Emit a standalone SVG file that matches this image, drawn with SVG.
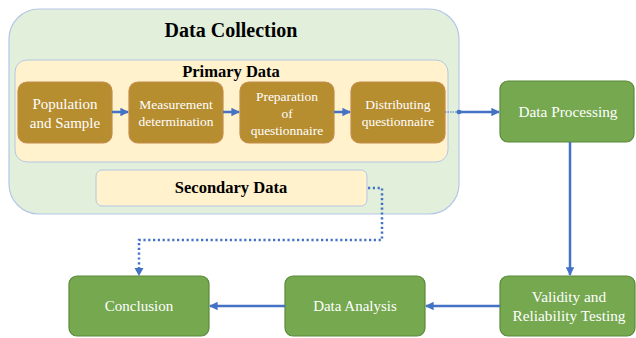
<svg xmlns="http://www.w3.org/2000/svg" width="636" height="338" viewBox="0 0 636 338">
  <defs>
    <marker id="arrowSmall" viewBox="0 0 10 10" refX="9" refY="5" markerWidth="3.4" markerHeight="3.4" orient="auto" markerUnits="strokeWidth">
      <path d="M0,0 L10,5 L0,10 Z" fill="#4472c4"/>
    </marker>
  </defs>
  <style>
    .group-box { fill: #e2efda; stroke: #b4c7e7; stroke-width: 1.2; }
    .data-box { fill: #fff2cc; stroke: #b4c7e7; stroke-width: 1; }
    .step { fill: #b68d2f; stroke: #c48b4c; stroke-width: 1.2; }
    .stage { fill: #75a84f; stroke: #5b8a3a; stroke-width: 1.2; }
    text { font-family: "Liberation Serif", "Times New Roman", serif; }
    .title { font-weight: bold; fill: #000; text-anchor: middle; }
    .label { fill: #fff; text-anchor: middle; }
    .flow { stroke: #4472c4; stroke-width: 2.5; fill: none; }
    .dotted { stroke: #4472c4; stroke-width: 2.5; fill: none; stroke-dasharray: 2.2 2.6; }
  </style>

  <!-- Data collection container -->
  <g id="data-collection">
    <rect class="group-box" x="9" y="9" width="450" height="205" rx="30" ry="30"/>
    <text class="title" x="231" y="37" font-size="20">Data Collection</text>
  </g>

  <g id="primary-data">
    <rect class="data-box" x="15" y="60" width="433" height="102" rx="12" ry="12"/>
    <text class="title" x="231" y="77" font-size="16.5">Primary Data</text>
  </g>

  <g id="secondary-data">
    <rect class="data-box" x="96" y="170" width="271" height="36" rx="6" ry="6"/>
    <text class="title" x="231" y="193" font-size="16.5">Secondary Data</text>
  </g>

  <!-- Primary data steps -->
  <g id="population-sample">
    <rect class="step" x="18" y="82" width="94" height="61" rx="9" ry="9"/>
    <text class="label" font-size="15"><tspan x="65" y="109">Population</tspan><tspan x="65" y="128">and Sample</tspan></text>
  </g>
  <g id="measurement">
    <rect class="step" x="129" y="82" width="94" height="61" rx="9" ry="9"/>
    <text class="label" font-size="13.5"><tspan x="176" y="109">Measurement</tspan><tspan x="176" y="126">determination</tspan></text>
  </g>
  <g id="preparation">
    <rect class="step" x="240" y="82" width="94" height="61" rx="9" ry="9"/>
    <text class="label" font-size="13.5"><tspan x="287" y="101">Preparation</tspan><tspan x="287" y="118">of</tspan><tspan x="287" y="135">questionnaire</tspan></text>
  </g>
  <g id="distributing">
    <rect class="step" x="351" y="82" width="94" height="61" rx="9" ry="9"/>
    <text class="label" font-size="13.5"><tspan x="398" y="109">Distributing</tspan><tspan x="398" y="126">questionnaire</tspan></text>
  </g>

  <!-- Main stages -->
  <g id="data-processing">
    <rect class="stage" x="500" y="81" width="134" height="61" rx="8" ry="8"/>
    <text class="label" x="568" y="117" font-size="15.3">Data Processing</text>
  </g>
  <g id="validity">
    <rect class="stage" x="500" y="276" width="135" height="60" rx="8" ry="8"/>
    <text class="label" font-size="15.3"><tspan x="569" y="302">Validity and</tspan><tspan x="569" y="321">Reliability Testing</tspan></text>
  </g>
  <g id="data-analysis">
    <rect class="stage" x="285" y="276" width="140" height="60" rx="8" ry="8"/>
    <text class="label" x="355" y="311" font-size="15">Data Analysis</text>
  </g>
  <g id="conclusion">
    <rect class="stage" x="69" y="276" width="140" height="60" rx="8" ry="8"/>
    <text class="label" x="139" y="311" font-size="15">Conclusion</text>
  </g>

  <!-- Connectors -->
  <g id="connectors">
    <line class="flow" x1="112" y1="112" x2="128" y2="112" marker-end="url(#arrowSmall)"/>
    <line class="flow" x1="223" y1="112" x2="239" y2="112" marker-end="url(#arrowSmall)"/>
    <line class="flow" x1="334" y1="112" x2="350" y2="112" marker-end="url(#arrowSmall)"/>
    <line x1="445" y1="112" x2="458" y2="112" stroke="#4472c4" stroke-width="1" stroke-dasharray="1.5 1"/>
    <ellipse cx="459" cy="112" rx="2.6" ry="2.2" fill="#4472c4"/>
    <line class="flow" x1="459" y1="112" x2="499" y2="112" marker-end="url(#arrowSmall)"/>
    <line class="flow" x1="570" y1="142" x2="570" y2="275" marker-end="url(#arrowSmall)"/>
    <line class="flow" x1="500" y1="306" x2="426" y2="306" marker-end="url(#arrowSmall)"/>
    <line class="flow" x1="285" y1="306" x2="210" y2="306" marker-end="url(#arrowSmall)"/>
    <path class="dotted" d="M368,188 H382 V240 H139 V268"/>
    <path d="M134.5,268 L143.5,268 L139,276 Z" fill="#4472c4"/>
  </g>
</svg>
